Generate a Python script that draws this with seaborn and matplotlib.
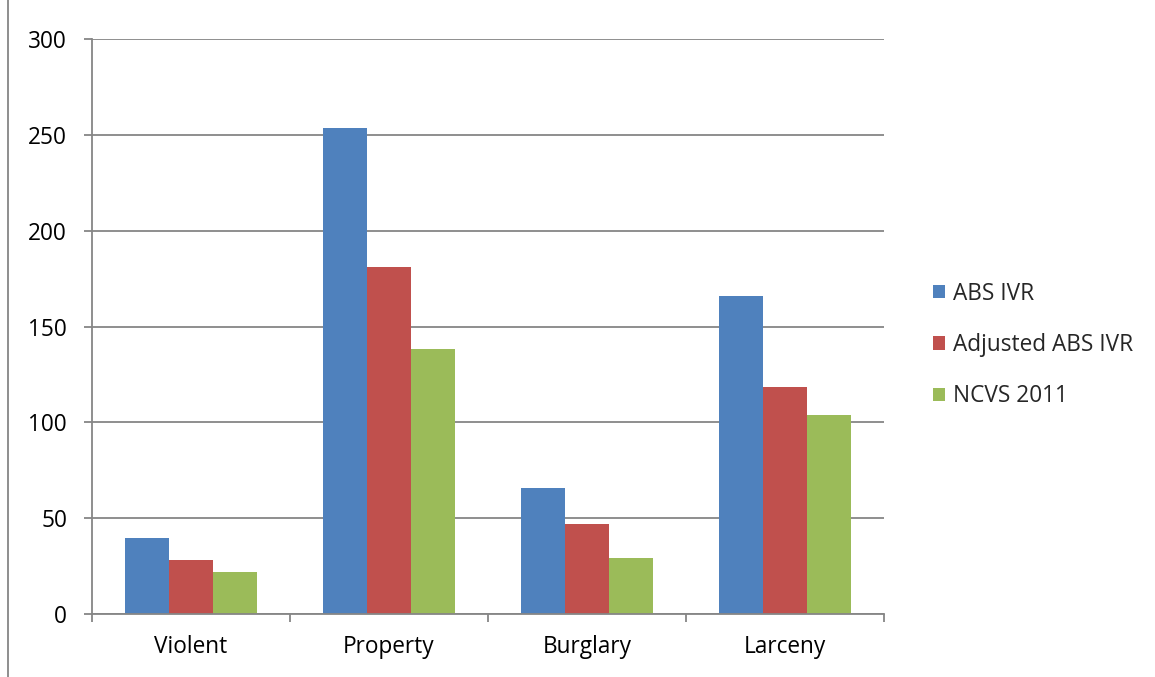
import matplotlib
matplotlib.use("Agg")
import matplotlib.pyplot as plt
import seaborn as sns
import pandas as pd
from matplotlib.patches import Rectangle

categories = ["Violent", "Property", "Burglary", "Larceny"]
series = ["ABS IVR", "Adjusted ABS IVR", "NCVS 2011"]
abs_ivr = [39.5, 253.5, 66, 165.7]
adjusted_abs_ivr = [28, 181.2, 47.2, 118.3]
ncvs_2011 = [22, 138.5, 29.2, 104]
colors = ["#4F81BD", "#C0504D", "#9BBB59"]

rows = []
for s, vals in zip(series, [abs_ivr, adjusted_abs_ivr, ncvs_2011]):
    for c, v in zip(categories, vals):
        rows.append({"Category": c, "Series": s, "Value": v})
df = pd.DataFrame(rows)

sns.set_style("white")
plt.rcParams["font.family"] = ["Open Sans", "DejaVu Sans"]

FS = 16.3
fig = plt.figure(figsize=(11.55, 6.77), dpi=100)
ax = fig.add_axes([92/1155, 1-614/677, (884-92)/1155, (614-39)/677])

sns.barplot(data=df, x="Category", y="Value", hue="Series", order=categories,
            hue_order=series, palette=colors, width=0.667, saturation=1,
            ax=ax, legend=True, edgecolor="none", linewidth=0)

grid_c = "#868686"
ax.set_ylim(0, 300)
ax.set_xlim(-0.5, 3.5)
ax.set_yticks(range(0, 301, 50))
ax.yaxis.grid(True, color=grid_c, linewidth=1.3)
ax.set_axisbelow(True)
for s in ["top", "right"]:
    ax.spines[s].set_visible(False)
for s in ["left", "bottom"]:
    ax.spines[s].set_color(grid_c)
    ax.spines[s].set_linewidth(1.3)
ax.set_xlabel("")
ax.set_ylabel("")
ax.tick_params(axis="y", which="major", length=6, width=1.3, color=grid_c,
               direction="out", left=True, labelsize=FS, pad=12, labelcolor="black")
ax.tick_params(axis="x", which="major", length=0, labelsize=FS, pad=15, labelcolor="black")
ax.set_xticks([-0.5, 0.5, 1.5, 2.5, 3.5], minor=True)
ax.tick_params(axis="x", which="minor", length=6, width=1.3, color=grid_c,
               direction="out", bottom=True)

handles, labels = ax.get_legend_handles_labels()
ax.legend_.remove()
fig.legend(handles, labels, loc="center left", bbox_to_anchor=(913/1155, 1-345/677),
           frameon=False, fontsize=FS, handlelength=0.52, handleheight=0.52,
           handletextpad=0.35, labelspacing=1.2)

fig.patches.append(Rectangle((8/1155, -0.01), 1.2, 1.2, transform=fig.transFigure,
                             fill=False, edgecolor=grid_c, linewidth=1.3))

fig.savefig("out.png", dpi=100)
